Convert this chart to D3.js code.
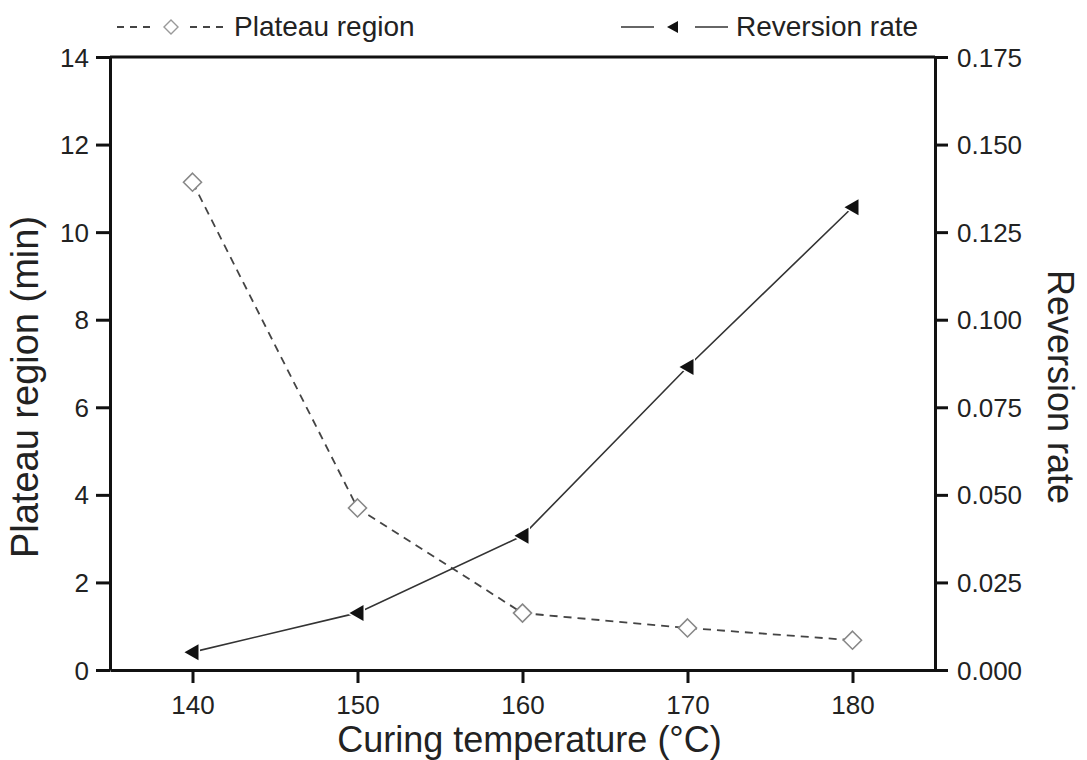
<!DOCTYPE html>
<html>
<head>
<meta charset="utf-8">
<script src="https://cdn.jsdelivr.net/npm/d3@7"></script>
<style>
  html, body { margin: 0; padding: 0; background: #fff; }
  svg { display: block; }
  text { font-family: "Liberation Sans", Arial, Helvetica, sans-serif; fill: #222; }
</style>
</head>
<body>
<svg id="chart" width="1087" height="760"></svg>
<script>
// Curing temperature (°C)
const temperatures = [140, 150, 160, 170, 180];
// Plateau region (min), left axis
const plateauRegion = [11.14, 3.70, 1.30, 0.96, 0.68];
// Reversion rate, right axis
const reversionRate = [0.0051, 0.0163, 0.0383, 0.0865, 0.1321];

const xTicks = [140, 150, 160, 170, 180];
const yLeftTicks = [0, 2, 4, 6, 8, 10, 12, 14];
const yRightTicks = [0, 0.025, 0.05, 0.075, 0.1, 0.125, 0.15, 0.175];

const plotLeft = 110, plotRight = 935, plotTop = 57, plotBottom = 670;

const svg = d3.select("#chart");

const x = d3.scaleLinear().domain([135, 185]).range([plotLeft, plotRight]);
const yL = d3.scaleLinear().domain([0, 14]).range([plotBottom, plotTop]);
const yR = d3.scaleLinear().domain([0, 0.175]).range([plotBottom, plotTop]);

const tickFont = 26;

// Bottom axis
const gx = svg.append("g").attr("transform", `translate(0,${plotBottom})`)
  .call(d3.axisBottom(x).tickValues(xTicks).tickSize(13).tickPadding(13).tickSizeOuter(0));
// Left axis
const gyl = svg.append("g").attr("transform", `translate(${plotLeft},0)`)
  .call(d3.axisLeft(yL).tickValues(yLeftTicks).tickSize(14).tickPadding(7).tickSizeOuter(0));
// Right axis
const gyr = svg.append("g").attr("transform", `translate(${plotRight},0)`)
  .call(d3.axisRight(yR).tickValues(yRightTicks).tickFormat(d3.format(".3f"))
    .tickSize(13).tickPadding(9).tickSizeOuter(0));

[gx, gyl, gyr].forEach(g => {
  g.select(".domain").attr("stroke", "#111").attr("stroke-width", 3);
  g.selectAll(".tick line").attr("stroke", "#111").attr("stroke-width", 3);
  g.selectAll(".tick text").attr("font-size", tickFont).attr("fill", "#333")
    .style("font-family", "'Liberation Sans', Arial, sans-serif");
});
gyl.selectAll(".tick text").attr("dy", "0.35em");
gyr.selectAll(".tick text").attr("dy", "0.35em");

// Top frame line
svg.append("line")
  .attr("x1", plotLeft).attr("x2", plotRight).attr("y1", plotTop).attr("y2", plotTop)
  .attr("stroke", "#111").attr("stroke-width", 3);

// Plateau region: dashed polyline with open diamonds
const plateauLine = d3.line()
  .x((d, i) => x(temperatures[i]))
  .y(d => yL(d));

svg.append("path")
  .datum(plateauRegion)
  .attr("d", plateauLine)
  .attr("fill", "none")
  .attr("stroke", "#444")
  .attr("stroke-width", 1.8)
  .attr("stroke-dasharray", "8,6");

// Reversion rate: solid polyline with filled left-pointing triangles
const reversionLine = d3.line()
  .x((d, i) => x(temperatures[i]))
  .y(d => yR(d));

svg.append("path")
  .datum(reversionRate)
  .attr("d", reversionLine)
  .attr("fill", "none")
  .attr("stroke", "#333")
  .attr("stroke-width", 1.6);

const diamond = "M0,-9L9,0L0,9L-9,0Z";
const triangle = "M-8,0L6,-8L6,8Z";

svg.append("g").selectAll("path")
  .data(plateauRegion)
  .join("path")
  .attr("transform", (d, i) => `translate(${x(temperatures[i])},${yL(d)})`)
  .attr("d", diamond)
  .attr("fill", "#fff")
  .attr("stroke", "#888")
  .attr("stroke-width", 1.6);

svg.append("g").selectAll("path")
  .data(reversionRate)
  .join("path")
  .attr("transform", (d, i) => `translate(${x(temperatures[i])},${yR(d)})`)
  .attr("d", triangle)
  .attr("fill", "#111")
  .attr("stroke", "#fff")
  .attr("stroke-width", 3)
  .attr("paint-order", "stroke");

// Axis titles
svg.append("text")
  .attr("x", (plotLeft + plotRight) / 2 + 7)
  .attr("y", 752)
  .attr("text-anchor", "middle")
  .attr("font-size", 36)
  .text("Curing temperature (°C)");

svg.append("text")
  .attr("transform", `translate(38,387) rotate(-90)`)
  .attr("text-anchor", "middle")
  .attr("font-size", 38)
  .text("Plateau region (min)");

svg.append("text")
  .attr("transform", `translate(1048,387) rotate(90)`)
  .attr("text-anchor", "middle")
  .attr("font-size", 36)
  .text("Reversion rate");

// Legend
const legY = 27;
const leg1 = svg.append("g");
leg1.append("line").attr("x1", 117).attr("x2", 152).attr("y1", legY).attr("y2", legY)
  .attr("stroke", "#444").attr("stroke-width", 1.8).attr("stroke-dasharray", "7,6");
leg1.append("path").attr("transform", `translate(171,${legY})`).attr("d", "M0,-7L7,0L0,7L-7,0Z")
  .attr("fill", "#fff").attr("stroke", "#999").attr("stroke-width", 1.4);
leg1.append("line").attr("x1", 190).attr("x2", 229).attr("y1", legY).attr("y2", legY)
  .attr("stroke", "#444").attr("stroke-width", 1.8).attr("stroke-dasharray", "7,6");
leg1.append("text").attr("x", 234).attr("y", legY + 9).attr("font-size", 28).text("Plateau region");

const leg2 = svg.append("g");
leg2.append("line").attr("x1", 621).attr("x2", 654).attr("y1", legY).attr("y2", legY)
  .attr("stroke", "#333").attr("stroke-width", 1.6);
leg2.append("path").attr("transform", `translate(673,${legY})`).attr("d", "M-6,0L5,-6L5,6Z")
  .attr("fill", "#111");
leg2.append("line").attr("x1", 695).attr("x2", 728).attr("y1", legY).attr("y2", legY)
  .attr("stroke", "#333").attr("stroke-width", 1.6);
leg2.append("text").attr("x", 736).attr("y", legY + 9).attr("font-size", 28).text("Reversion rate");
</script>
</body>
</html>
